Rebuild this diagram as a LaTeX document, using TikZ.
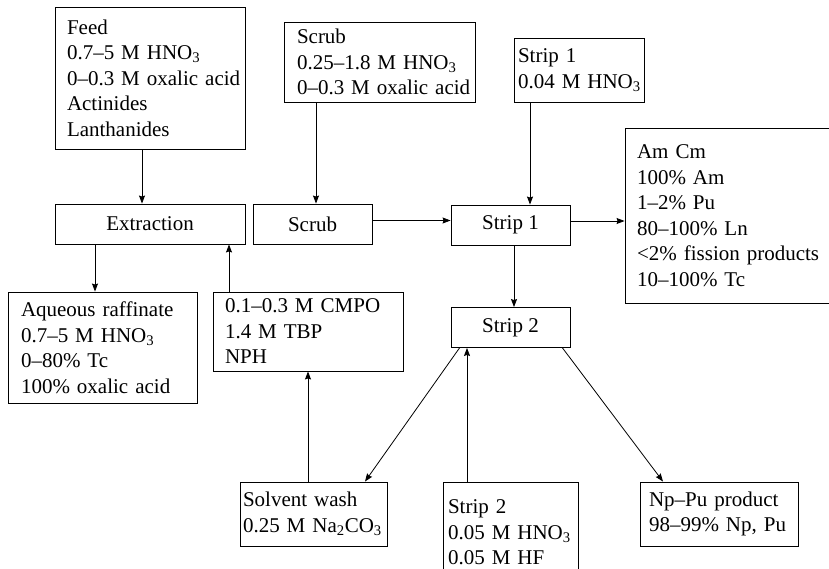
\documentclass[tikz,border=0pt]{standalone}
\usepackage{fontspec}
\setmainfont{Liberation Serif}
\usepackage{tikz}
\usetikzlibrary{arrows.meta}

\begin{document}
\begin{tikzpicture}[x=1pt, y=-1pt, >={Stealth[length=8pt, width=6pt, inset=1pt]},
    every node/.style={font=\fontsize{21pt}{25.5pt}\selectfont},
    box/.style={draw, line width=0.9pt, align=left, inner xsep=0pt, inner ysep=0pt,
        execute at begin node={\hyphenpenalty=10000\exhyphenpenalty=10000}},
    stage/.style={draw, line width=0.9pt, minimum width=119pt, minimum height=40pt, inner sep=0pt},
    flow/.style={->, line width=0.8pt}]
            \useasboundingbox (0,0) rectangle (829,569);
            % feeds along the top
            \node[box, minimum width=190pt, minimum height=142pt, text width=166pt] (feed) at (150,78)
                {Feed\\0.7--5~M~HNO\textsubscript{3}\\0--0.3~M~oxalic~acid\\Actinides\\Lanthanides};
            \node[box, minimum width=191pt, minimum height=80pt, text width=165pt] (scrubfeed) at (379.5,62)
                {Scrub\\0.25--1.8~M~HNO\textsubscript{3}\\0--0.3~M~oxalic~acid};
            \node[box, minimum width=130pt, minimum height=64pt, text width=122pt] (stripfeed) at (579,70)
                {Strip~1\\0.04~M~HNO\textsubscript{3}};
            % stages
            \node[stage, minimum width=190pt] (extraction) at (150,224) {Extraction};
            \node[stage] (scrub) at (312.5,224) {Scrub};
            \node[stage] (stripone) at (510.5,225) {Strip 1};
            \node[stage] (striptwo) at (510.5,327.5) {Strip 2};
            % products and solvent
            \node[box, minimum width=215pt, minimum height=175pt, text width=191pt] (amcm) at (732.5,215.5)
                {Am~Cm\\100\%~Am\\1--2\%~Pu\\80--100\%~Ln\\<2\%~fission~products\\10--100\%~Tc};
            \node[box, minimum width=189pt, minimum height=111pt, text width=163pt] (raffinate) at (102.5,347.5)
                {Aqueous~raffinate\\0.7--5~M~HNO\textsubscript{3}\\0--80\%~Tc\\100\%~oxalic~acid};
            \node[box, minimum width=190pt, minimum height=79pt, text width=166pt] (solvent) at (308,331.5)
                {0.1--0.3~M~CMPO\\1.4~M~TBP\\NPH};
            \node[box, minimum width=147pt, minimum height=64pt, text width=141pt] (wash) at (313.5,514)
                {Solvent~wash\\0.25~M~Na\textsubscript{2}CO\textsubscript{3}};
            \node[box, minimum width=135pt, minimum height=101pt, text width=125pt] (stripfeedtwo) at (510.5,532.5)
                {Strip~2\\0.05~M~HNO\textsubscript{3}\\0.05~M~HF};
            \node[box, minimum width=158pt, minimum height=64pt, text width=140pt] (product) at (719,514)
                {Np--Pu~product\\98--99\%~Np,~Pu};
            % connectors
            \draw[flow] ([xshift=-8pt]feed.south) -- ([xshift=-8pt]feed.south |- extraction.north);
            \draw[flow] ([xshift=-63.5pt]scrubfeed.south) -- ([xshift=-63.5pt]scrubfeed.south |- scrub.north);
            \draw[flow] ([xshift=-49pt]stripfeed.south) -- ([xshift=-49pt]stripfeed.south |- stripone.north);
            \draw[flow] ([yshift=3.5pt]scrub.east) -- ([yshift=3.5pt]scrub.east -| stripone.west);
            \draw[flow] ([yshift=4pt]stripone.east) -- ([yshift=4pt]stripone.east -| amcm.west);
            \draw[flow] ([xshift=-55pt]extraction.south) -- ([xshift=-55pt]extraction.south |- raffinate.north);
            \draw[flow] ([xshift=-79pt]solvent.north) -- ([xshift=-79pt]solvent.north |- extraction.south);
            \draw[flow] ([xshift=3.5pt]stripone.south) -- ([xshift=3.5pt]stripone.south |- striptwo.north);
            \draw[flow] ([xshift=-5.5pt]wash.north) -- ([xshift=-5.5pt]wash.north |- solvent.south);
            \draw[flow] ([xshift=-51pt]striptwo.south) -- ([xshift=51.5pt]wash.north);
            \draw[flow] ([xshift=-43.5pt]stripfeedtwo.north) -- ([xshift=-43.5pt]stripfeedtwo.north |- striptwo.south);
            \draw[flow] ([xshift=52pt]striptwo.south) -- ([xshift=-56pt]product.north);
        \end{tikzpicture}
\end{document}
